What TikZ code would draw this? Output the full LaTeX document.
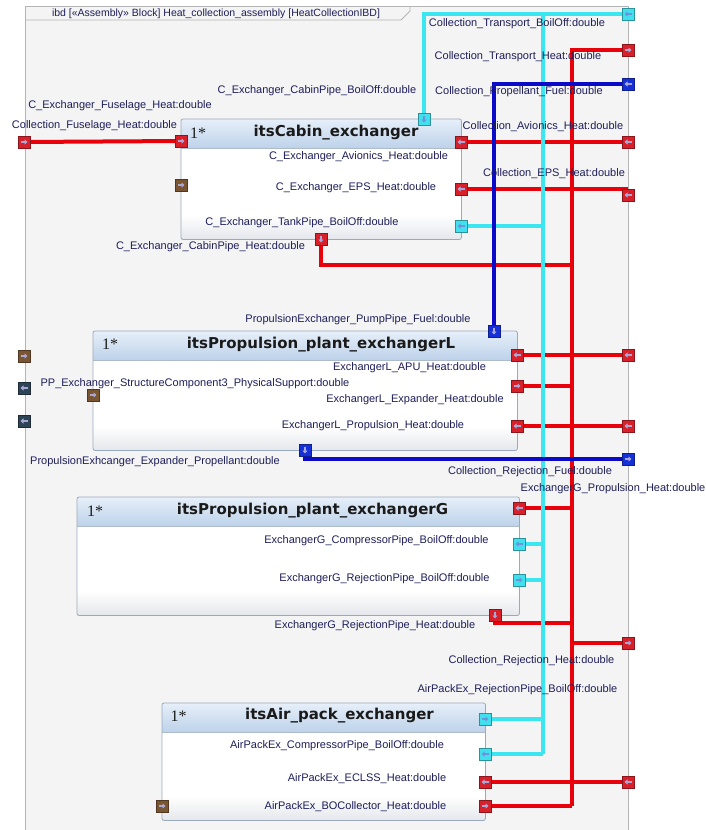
\documentclass[tikz,border=0pt]{standalone}
\usepackage{fontspec}
\setmainfont{Liberation Sans}
\newfontfamily\titlefont{DejaVu Sans}
\newfontfamily\multfont{Liberation Serif}
\usetikzlibrary{arrows.meta}
\pgfdeclarelayer{back}
\pgfdeclarelayer{wires}
\pgfsetlayers{back,wires,main}
\definecolor{framebg}{HTML}{F4F4F4}
\definecolor{frameln}{HTML}{B4B4B4}
\definecolor{txt}{HTML}{1E1E5A}
\definecolor{ttlc}{HTML}{1A1A1A}
\definecolor{wred}{HTML}{E8000A}
\definecolor{wcyan}{HTML}{3CE6F0}
\definecolor{wblue}{HTML}{0A0AC8}
\definecolor{pred}{HTML}{D8202A}
\definecolor{pcyan}{HTML}{40E0EE}
\definecolor{pblue}{HTML}{1530D8}
\definecolor{pbrown}{HTML}{7A5532}
\definecolor{pslate}{HTML}{2E4456}
\definecolor{arrc}{HTML}{A8A8D8}
\definecolor{arrcy}{HTML}{6E94DC}
\definecolor{hdrtop}{HTML}{E6EFF9}
\definecolor{hdrbot}{HTML}{BDD2EA}
\definecolor{blkln}{HTML}{9AAABC}
\definecolor{bodybot}{HTML}{E4E7EB}
\newcommand\ibdblk[5]{%
  \node[blk, minimum width=#4pt, minimum height=#5pt] (#1) at (#2,#3) {};
  \shade[top color=hdrtop, bottom color=hdrbot] ([xshift=0.4pt,yshift=-0.4pt]#1.north west) rectangle ([xshift=-0.4pt,yshift=-29pt]#1.north east);
  \draw[draw=blkln!80, line width=0.5pt] ([yshift=-29pt]#1.north west) -- ([yshift=-29pt]#1.north east);
  \shade[top color=white, bottom color=bodybot] ([xshift=0.4pt,yshift=24pt]#1.south west) rectangle ([xshift=-0.4pt,yshift=0.4pt]#1.south east);
  \draw[draw=blkln, line width=0.8pt, rounded corners=2pt] (#1.north west) rectangle (#1.south east);
}
\begin{document}
\begin{tikzpicture}[x=1pt,y=-1pt,
  lbl/.style={font=\fontsize{11}{13}\selectfont, text=txt, inner sep=0pt},
  ttl/.style={font=\titlefont\bfseries\fontsize{15}{18}\selectfont, text=ttlc, inner sep=0pt},
  mult/.style={font=\multfont\fontsize{16}{18}\selectfont, text=ttlc, inner sep=0pt},
  blk/.style={rectangle, anchor=north west, fill=white, draw=none, inner sep=0pt},
  port/.style={rectangle, draw=#1!65!black, fill=#1, line width=0.5pt, minimum size=12pt, inner sep=0pt},
  cport/.style={port=pcyan, parr/.append style={draw=arrcy}},
  parr/.style={-{Triangle[length=3pt,width=5pt]}, line width=1.4pt, draw=arrc},
  pl/.style={path picture={\draw[parr] ([xshift=3.5pt]path picture bounding box.center) -- ([xshift=-3.5pt]path picture bounding box.center);}},
  pr/.style={path picture={\draw[parr] ([xshift=-3.5pt]path picture bounding box.center) -- ([xshift=3.5pt]path picture bounding box.center);}},
  pd/.style={path picture={\draw[parr] ([yshift=3.5pt]path picture bounding box.center) -- ([yshift=-3.5pt]path picture bounding box.center);}},
  wire/.style={draw=#1, line width=4pt},
]
\useasboundingbox (0,0) rectangle (705,830);
\begin{pgfonlayer}{back}
  \fill[white] (0,0) rectangle (705,830);
  \fill[framebg] (25,6) rectangle (628,830);
  \draw[frameln, line width=0.8pt] (25,830) -- (25,6) -- (628,6) -- (628,830);
  \draw[frameln, line width=0.8pt] (25,20) -- (401,20) -- (410,11) -- (410,6);
  \ibdblk{cab}{181}{119}{280}{120}
  \ibdblk{exl}{93}{331}{424}{119}
  \ibdblk{exg}{77}{497}{442}{118}
  \ibdblk{air}{162}{703}{323}{117}
\end{pgfonlayer}

% frame tab
\node[lbl, font=\fontsize{10.5}{12}\selectfont] (tab) at (216,14) {ibd [«Assembly» Block] Heat\_collection\_assembly [HeatCollectionIBD]};

% titles
\node[mult] (cab_m) at (198,133) {1*};
\node[ttl] (cab_t) at (336,133) {itsCabin\_exchanger};
\node[mult] (exl_m) at (110,344) {1*};
\node[ttl] (exl_t) at (321,345) {itsPropulsion\_plant\_exchangerL};
\node[mult] (exg_m) at (95,511) {1*};
\node[ttl] (exg_t) at (312.5,511) {itsPropulsion\_plant\_exchangerG};
\node[mult] (air_m) at (178.5,716) {1*};
\node[ttl] (air_t) at (339.5,716) {itsAir\_pack\_exchanger};

% labels
\node[lbl] (l1) at (317,91) {C\_Exchanger\_CabinPipe\_BoilOff:double};
\node[lbl] (l2) at (120,106) {C\_Exchanger\_Fuselage\_Heat:double};
\node[lbl] (l3) at (94.5,126) {Collection\_Fuselage\_Heat:double};
\node[lbl] (l4) at (517,24) {Collection\_Transport\_BoilOff:double};
\node[lbl] (l5) at (518,57) {Collection\_Transport\_Heat:double};
\node[lbl] (l6) at (519,92) {Collection\_Propellant\_Fuel:double};
\node[lbl] (l7) at (543,127) {Collection\_Avionics\_Heat:double};
\node[lbl] (l8) at (554,174) {Collection\_EPS\_Heat:double};
\node[lbl] (l9) at (358.5,157) {C\_Exchanger\_Avionics\_Heat:double};
\node[lbl] (l10) at (356,188) {C\_Exchanger\_EPS\_Heat:double};
\node[lbl] (l11) at (302,223) {C\_Exchanger\_TankPipe\_BoilOff:double};
\node[lbl] (l12) at (210.5,247) {C\_Exchanger\_CabinPipe\_Heat:double};
\node[lbl] (l13) at (358,320) {PropulsionExchanger\_PumpPipe\_Fuel:double};
\node[lbl] (l14) at (409.5,368) {ExchangerL\_APU\_Heat:double};
\node[lbl] (l15) at (415,400) {ExchangerL\_Expander\_Heat:double};
\node[lbl] (l16) at (373,426) {ExchangerL\_Propulsion\_Heat:double};
\node[lbl] (l17) at (195,384) {PP\_Exchanger\_StructureComponent3\_PhysicalSupport:double};
\node[lbl] (l18) at (155,462) {PropulsionExhcanger\_Expander\_Propellant:double};
\node[lbl] (l19) at (530,472) {Collection\_Rejection\_Fuel:double};
\node[lbl] (l20) at (613,489) {ExchangerG\_Propulsion\_Heat:double};
\node[lbl] (l21) at (376.5,541) {ExchangerG\_CompressorPipe\_BoilOff:double};
\node[lbl] (l22) at (384.5,579) {ExchangerG\_RejectionPipe\_BoilOff:double};
\node[lbl] (l23) at (375,626) {ExchangerG\_RejectionPipe\_Heat:double};
\node[lbl] (l24) at (531.5,661) {Collection\_Rejection\_Heat:double};
\node[lbl] (l25) at (517.5,690) {AirPackEx\_RejectionPipe\_BoilOff:double};
\node[lbl] (l26) at (337,746) {AirPackEx\_CompressorPipe\_BoilOff:double};
\node[lbl] (l27) at (367,779) {AirPackEx\_ECLSS\_Heat:double};
\node[lbl] (l28) at (355.5,807) {AirPackEx\_BOCollector\_Heat:double};

% outer ports
\node[port=pred, pr] (o_fus) at (24,142) {};
\node[cport, pl] (o_tboil) at (628,14) {};
\node[port=pred, pr] (o_theat) at (628,50) {};
\node[port=pblue, pl] (o_pfuel) at (628,84) {};
\node[port=pred, pl] (o_avi) at (628,142) {};
\node[port=pred, pl] (o_eps) at (628,195) {};
\node[port=pbrown, pr] (o_br1) at (24,356) {};
\node[port=pslate, pl] (o_sl1) at (24,388) {};
\node[port=pslate, pl] (o_sl2) at (24,421) {};
\node[port=pred, pl] (o_apu) at (628,355) {};
\node[port=pred, pl] (o_prop) at (628,426) {};
\node[port=pblue, pr] (o_rfuel) at (628,459) {};
\node[port=pred, pr] (o_rheat) at (628,643) {};
\node[port=pred, pl] (o_eclss) at (628,782) {};
% cabin ports
\node[port=pred, pr] (c_fus) at (181,141) {};
\node[port=pbrown, pr] (c_br) at (181,185) {};
\node[cport, pd] (c_cb) at (424,119) {};
\node[port=pred, pl] (c_avi) at (461,142) {};
\node[port=pred, pl] (c_eps) at (461,189) {};
\node[cport, pl] (c_tank) at (461,226) {};
\node[port=pred, pd] (c_cph) at (321,239) {};
% exchanger L ports
\node[port=pblue, pd] (l_top) at (494,331) {};
\node[port=pred, pl] (l_apu) at (517,355) {};
\node[port=pred, pr] (l_exp) at (517,386) {};
\node[port=pred, pl] (l_prop) at (517,426) {};
\node[port=pblue, pd] (l_bot) at (305,450) {};
\node[port=pbrown, pr] (l_br) at (93,395) {};
% exchanger G ports
\node[port=pred, pl] (g_ph) at (519,508) {};
\node[cport, pl] (g_cp) at (519,544) {};
\node[cport, pr] (g_rp) at (519,580) {};
\node[port=pred, pd] (g_bot) at (495,615) {};
% air pack ports
\node[cport, pr] (a_c1) at (485,719) {};
\node[cport, pl] (a_c2) at (485,754) {};
\node[port=pred, pl] (a_ecl) at (485,782) {};
\node[port=pred, pr] (a_bo) at (485,806) {};
\node[port=pbrown, pr] (a_br) at (162,806) {};

% bus junctions
\coordinate (rbB) at (572,806);
\coordinate (rb1) at (572,265);
\coordinate (rb2) at (572,623);
\coordinate (cbT) at (543,14);
\coordinate (cbB) at (543,754);

\begin{pgfonlayer}{wires}
  % red
  \draw[wire=wred] (o_fus.center) -- (c_fus.center);
  \draw[wire=wred] (c_avi.center) -- (o_avi.center);
  \draw[wire=wred] (c_eps.center) -- (c_eps.center -| o_eps.center);
  \draw[wire=wred] (c_cph.center) |- (rb1);
  \draw[wire=wred] (l_apu.center) -- (o_apu.center);
  \draw[wire=wred] (l_exp.center) -- (l_exp.center -| rbB);
  \draw[wire=wred] (l_prop.center) -- (o_prop.center);
  \draw[wire=wred] (g_ph.center) -- (g_ph.center -| rbB);
  \draw[wire=wred] (g_bot.center) |- (rb2);
  \draw[wire=wred] (o_rheat.center) -- (o_rheat.center -| rbB);
  \draw[wire=wred] (a_ecl.center) -- (o_eclss.center);
  \draw[wire=wred] (a_bo.center) -- (rbB);
  \draw[wire=wred] (o_theat.center) -| (rbB);
  % cyan
  \draw[wire=wcyan] (o_tboil.center) -| (c_cb.center);
  \draw[wire=wcyan] (cbT) -- (cbB);
  \draw[wire=wcyan] (c_tank.center) -- (c_tank.center -| cbT);
  \draw[wire=wcyan] (g_cp.center) -- (g_cp.center -| cbT);
  \draw[wire=wcyan] (g_rp.center) -- (g_rp.center -| cbT);
  \draw[wire=wcyan] (a_c1.center) -- (a_c1.center -| cbT);
  \draw[wire=wcyan] (a_c2.center) -- (cbB);
  % blue
  \draw[wire=wblue] (o_pfuel.center) -| (l_top.center);
  \draw[wire=wblue] (l_bot.center) |- (o_rfuel.center);
\end{pgfonlayer}
\end{tikzpicture}
\end{document}
